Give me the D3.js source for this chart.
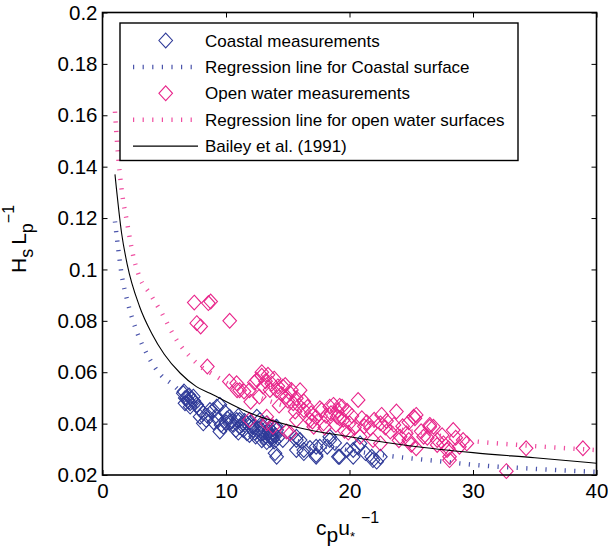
<!DOCTYPE html>
<html>
<head>
<meta charset="utf-8" />
<title>Hs/Lp vs cp/u*</title>
<script src="https://cdn.jsdelivr.net/npm/d3@7"></script>
<style>
  body { margin: 0; background: #fff; }
  svg { display: block; font-family: "Liberation Sans", Arial, Helvetica, sans-serif; }
</style>
</head>
<body>
<svg id="CHART" width="608" height="551"></svg>
<script>
// axis ticks
var xTicks = [0, 10, 20, 30, 40];
var xTickLabels = ["0", "10", "20", "30", "40"];
var yTicks = [0.02, 0.04, 0.06, 0.08, 0.1, 0.12, 0.14, 0.16, 0.18, 0.2];
var yTickLabels = ["0.02", "0.04", "0.06", "0.08", "0.1", "0.12", "0.14", "0.16", "0.18", "0.2"];

var coastalX = [6.54, 6.82, 7.09, 6.68, 7.35, 7.63, 8.16, 7.9, 8.97, 9.5, 9.38, 9.78, 10.3, 10.87, 11.1, 11.68,
  12.2, 12.75, 13.0, 13.3, 13.7, 13.97, 14.1, 12.5, 11.9, 16.0, 16.3, 17.3, 17.6, 18.4, 19.1, 19.8, 8.4, 6.6,
  7.1, 8.7, 9.25, 9.5, 10.3, 11.1, 11.7, 12.2, 12.75, 13.3, 13.56, 14.1, 14.6, 15.7, 8.16, 13.0, 13.56, 14.1,
  15.7, 16.3, 17.3, 18.2, 19.2, 20.3, 20.85, 21.9, 22.5, 17.3, 18.4, 15.7, 20.3, 20.7, 21.8, 22.2,
  7.0, 6.9, 7.2, 10.6, 11.4, 12.0, 12.9, 13.2, 13.8, 14.0, 13.5, 11.0, 9.9, 10.1, 12.4, 13.9,
  6.7, 7.0, 7.4, 7.8, 8.5, 9.0, 9.6, 10.5, 10.8, 11.3, 11.5, 11.9, 12.3, 12.6, 12.8, 13.1, 13.4, 13.6, 13.8,
  14.0, 14.2, 13.3, 12.9, 11.0, 10.0, 9.2, 8.0, 16.8, 18.8, 21.3];
var coastalY = [0.0518, 0.0499, 0.0479, 0.0479, 0.0505, 0.0473, 0.0440, 0.0427, 0.0453, 0.0473, 0.0414, 0.0388, 0.0427, 0.0414, 0.0388, 0.0401,
  0.0375, 0.0414, 0.0388, 0.0362, 0.0349, 0.0285, 0.0388, 0.0427, 0.0356, 0.0336, 0.0297, 0.0278, 0.0310, 0.0336, 0.0271, 0.0297, 0.0414, 0.0525,
  0.0466, 0.0453, 0.0466, 0.0369, 0.0401, 0.0414, 0.0362, 0.0388, 0.0362, 0.0401, 0.0349, 0.0375, 0.0336, 0.0297, 0.0401, 0.0362, 0.0336, 0.0271,
  0.0336, 0.0285, 0.0271, 0.0310, 0.0271, 0.0297, 0.0323, 0.0258, 0.0271, 0.0310, 0.0349, 0.0349, 0.0271, 0.0310, 0.0271, 0.0252,
  0.0510, 0.0490, 0.0495, 0.0395, 0.0375, 0.0405, 0.0375, 0.0350, 0.0365, 0.0355, 0.0380, 0.0430, 0.0445, 0.0420, 0.0350, 0.0330,
  0.0500, 0.0485, 0.0488, 0.0460, 0.0430, 0.0405, 0.0395, 0.0410, 0.0375, 0.0395, 0.0410, 0.0390, 0.0365, 0.0380, 0.0395, 0.0345, 0.0372, 0.0358, 0.0340,
  0.0385, 0.0345, 0.0328, 0.0335, 0.0365, 0.0405, 0.0430, 0.0450, 0.0305, 0.0325, 0.0285];

// open water measurements
var openX = [7.43, 8.57, 8.76, 7.63, 7.95, 10.3, 8.49, 10.27, 10.86, 11.46, 12.5, 12.9, 13.0, 13.56, 14.8, 15.2,
  15.7, 16.3, 17.6, 18.4, 19.2, 19.0, 11.9, 13.3, 15.2, 17.1, 17.9, 11.1, 11.9, 14.1, 14.9, 15.45, 13.3, 13.8,
  14.9, 15.7, 15.3, 16.3, 15.6, 16.8, 17.75, 18.7, 19.4, 19.2, 20.0, 20.7, 21.0, 21.7, 22.6, 22.5, 23.8, 23.3,
  24.1, 25.3, 25.4, 26.5, 26.0, 27.1, 24.8, 21.9, 14.6, 25.2, 26.5, 28.4, 29.5, 28.1, 34.3, 38.9, 32.7, 24.6,
  25.4, 27.6, 28.0, 22.5, 20.85, 26.8, 29.2, 28.1, 27.9, 27.1, 12.3, 13.9, 16.9, 18.1, 19.8, 20.4, 21.4, 23.0,
  24.3, 19.6, 18.9, 16.0, 14.3, 12.7, 12.9, 13.4,
  13.2, 13.7, 14.2, 14.5, 15.0, 15.9, 16.6, 17.3, 18.5, 19.0, 19.5, 20.2, 21.2, 22.0, 22.9, 23.6, 24.8, 25.8,
  26.3, 27.5, 28.6, 28.9, 24.0, 25.0, 19.9, 17.0, 18.0, 12.0, 10.9];
var openY = [0.0871, 0.0869, 0.0875, 0.0791, 0.0778, 0.0800, 0.0622, 0.0564, 0.0557, 0.0525, 0.0570, 0.0586, 0.0544, 0.0531, 0.0550, 0.0518,
  0.0499, 0.0453, 0.0460, 0.0466, 0.0469, 0.0427, 0.0414, 0.0401, 0.0362, 0.0388, 0.0401, 0.0530, 0.0530, 0.0530, 0.0505, 0.0479, 0.0427, 0.0388,
  0.0369, 0.0414, 0.0531, 0.0486, 0.0447, 0.0414, 0.0453, 0.0473, 0.0466, 0.0421, 0.0401, 0.0492, 0.0421, 0.0382, 0.0434, 0.0401, 0.0447, 0.0369,
  0.0349, 0.0421, 0.0434, 0.0395, 0.0349, 0.0336, 0.0336, 0.0336, 0.0544, 0.0427, 0.0388, 0.0375, 0.0323, 0.0258, 0.0304, 0.0304, 0.0215, 0.0362,
  0.0304, 0.0323, 0.0304, 0.0323, 0.0349, 0.0388, 0.0336, 0.0271, 0.0297, 0.0317, 0.0560, 0.0575, 0.0440, 0.0430, 0.0450, 0.0385, 0.0405, 0.0410,
  0.0390, 0.0372, 0.0395, 0.0530, 0.0470, 0.0505, 0.0600, 0.0590,
  0.0565, 0.0555, 0.0545, 0.0515, 0.0490, 0.0470, 0.0465, 0.0425, 0.0440, 0.0450, 0.0415, 0.0430, 0.0390, 0.0415, 0.0385, 0.0395, 0.0405, 0.0370,
  0.0345, 0.0355, 0.0345, 0.0310, 0.0335, 0.0318, 0.0365, 0.0408, 0.0385, 0.0485, 0.0530];

// regression / reference curves
var coastFitX = [1.01, 1.3, 1.55, 2.0, 2.8, 3.6, 4.8, 5.6, 7, 8, 10, 12, 15, 18, 20, 23.8, 27, 30, 35, 40];
var coastFitY = [0.1187, 0.107, 0.098, 0.088, 0.0755, 0.067, 0.0585, 0.0555, 0.0495, 0.0467, 0.0418, 0.0381, 0.0341, 0.0311, 0.0296, 0.0271, 0.0255, 0.0240, 0.0224, 0.0212];
var openFitX = [1.01, 1.2, 1.55, 2.0, 2.5, 3.0, 3.85, 4.8, 6, 7, 8, 9, 10, 12, 14, 16, 18, 20, 23, 26, 30, 34, 40];
var openFitY = [0.1614, 0.148, 0.131, 0.118, 0.105, 0.097, 0.0905, 0.083, 0.0725, 0.0665, 0.062, 0.059, 0.056, 0.0515, 0.048, 0.0452, 0.043, 0.041, 0.0385, 0.0363, 0.0332, 0.0316, 0.0297];
var baileyX = [1.01, 1.55, 2, 3, 4, 5, 6.3, 7.6, 8.7, 12, 16, 20, 25, 30, 35, 40];
var baileyY = [0.137, 0.114, 0.102, 0.0856, 0.075, 0.067, 0.0596, 0.0544, 0.0518, 0.044, 0.0383, 0.0349, 0.0313, 0.0287, 0.0267, 0.0246];

var legendLabels = ["Coastal measurements", "Regression line for Coastal surface",
  "Open water measurements", "Regression line for open water surfaces", "Bailey et al. (1991)"];

var BLUE = "#2f3a98", PINK = "#e8248a";
var BLUE_LINE = "#4a54ab", PINK_LINE = "#ef4ea0";

var L = 102.5, R = 596.5, T = 12.5, B = 475;
var svg = d3.select("#CHART");

var x = d3.scaleLinear().domain([0, 40]).range([L, R]);
var y = d3.scaleLinear().domain([0.02, 0.2]).range([B, T]);

svg.append("defs").append("clipPath").attr("id", "clip")
  .append("rect").attr("x", L).attr("y", T).attr("width", R - L).attr("height", B - T);

// diamond marker path
function diamond(w, h) {
  return "M0," + (-h) + "L" + w + ",0L0," + h + "L" + (-w) + ",0Z";
}
var DIA = diamond(6.8, 7.4);

function scatter(xs, ys, color) {
  svg.append("g").selectAll("path").data(d3.zip(xs, ys)).enter().append("path")
    .attr("d", DIA)
    .attr("transform", function (d) { return "translate(" + x(d[0]) + "," + y(d[1]) + ")"; })
    .attr("fill", "none").attr("stroke", color).attr("stroke-width", 1.1);
}

var line = d3.line().x(function (d) { return x(d[0]); }).y(function (d) { return y(d[1]); })
  .curve(d3.curveMonotoneX);

function curve(xs, ys, color, dotted) {
  var p = svg.append("path").datum(d3.zip(xs, ys))
    .attr("clip-path", "url(#clip)")
    .attr("d", line).attr("fill", "none").attr("stroke", color);
  if (dotted) p.attr("stroke-width", 4.5).attr("stroke-dasharray", "1.2 8.4");
  else p.attr("stroke-width", 1.1);
}

scatter(coastalX, coastalY, BLUE);
curve(coastFitX, coastFitY, BLUE_LINE, true);
scatter(openX, openY, PINK);
curve(openFitX, openFitY, PINK_LINE, true);
curve(baileyX, baileyY, "#000", false);

// axes, ticks inside
function styleAxis(g) {
  g.select(".domain").remove();
  g.selectAll(".tick line").attr("stroke", "#000").attr("stroke-width", 1);
  g.selectAll(".tick text").attr("fill", "#000").attr("font-size", "20.5px")
    .attr("font-family", "Liberation Sans, Arial, sans-serif");
}
svg.append("g").attr("transform", "translate(0," + B + ")")
  .call(d3.axisBottom(x).tickValues(xTicks).tickFormat(function (d, i) { return xTickLabels[i]; })
    .tickSizeInner(-5).tickSizeOuter(0).tickPadding(8))
  .call(styleAxis);
svg.append("g").attr("transform", "translate(" + L + ",0)")
  .call(d3.axisLeft(y).tickValues(yTicks).tickFormat(function (d, i) { return yTickLabels[i]; })
    .tickSizeInner(-5).tickSizeOuter(0).tickPadding(5))
  .call(styleAxis);
svg.append("g").attr("transform", "translate(0," + T + ")")
  .call(d3.axisTop(x).tickValues(xTicks).tickFormat("").tickSizeInner(-5).tickSizeOuter(0))
  .call(styleAxis);
svg.append("g").attr("transform", "translate(" + R + ",0)")
  .call(d3.axisRight(y).tickValues(yTicks).tickFormat("").tickSizeInner(-5).tickSizeOuter(0))
  .call(styleAxis);

svg.append("rect").attr("x", L).attr("y", T).attr("width", R - L).attr("height", B - T)
  .attr("fill", "none").attr("stroke", "#000").attr("stroke-width", 1.6);

// legend
var lg = svg.append("g");
lg.append("rect").attr("x", 120).attr("y", 23).attr("width", 398).attr("height", 137.5)
  .attr("fill", "#fff").attr("stroke", "#000").attr("stroke-width", 1.4);
var legendStyle = [
  { kind: "marker", color: BLUE },
  { kind: "dots", color: BLUE_LINE },
  { kind: "marker", color: PINK },
  { kind: "dots", color: PINK_LINE },
  { kind: "line", color: "#000" }
];
legendLabels.forEach(function (lab, i) {
  var cy = 40.5 + i * 26.4;
  var s = legendStyle[i];
  if (s.kind === "marker") {
    lg.append("path").attr("d", DIA).attr("transform", "translate(165.7," + cy + ")")
      .attr("fill", "none").attr("stroke", s.color).attr("stroke-width", 1.1);
  } else if (s.kind === "dots") {
    lg.append("line").attr("x1", 133).attr("x2", 198).attr("y1", cy).attr("y2", cy)
      .attr("stroke", s.color).attr("stroke-width", 4.5).attr("stroke-dasharray", "1.2 8.4");
  } else {
    lg.append("line").attr("x1", 133).attr("x2", 198).attr("y1", cy).attr("y2", cy)
      .attr("stroke", s.color).attr("stroke-width", 1.1);
  }
  lg.append("text").attr("x", 205).attr("y", cy).attr("dy", "0.36em")
    .attr("font-size", "17px").attr("fill", "#000").text(lab);
});

// axis labels
var xl = svg.append("text").attr("x", 316).attr("y", 535).attr("font-size", "21px").attr("fill", "#000");
xl.append("tspan").text("c");
xl.append("tspan").attr("dy", 7).text("p");
xl.append("tspan").attr("dy", -7).text("u");
xl.append("tspan").attr("dy", 6).attr("font-size", "13px").text("*");
xl.append("tspan").attr("dy", -18).attr("dx", 6).attr("font-size", "16px").text("\u22121");

var yl = svg.append("text").attr("transform", "translate(26,273) rotate(-90)")
  .attr("font-size", "21px").attr("fill", "#000");
yl.append("tspan").text("H");
yl.append("tspan").attr("dy", 7).attr("font-size", "18px").text("s");
yl.append("tspan").attr("dy", -7).attr("dx", 4).text("L");
yl.append("tspan").attr("dy", 7).attr("font-size", "18px").text("p");
yl.append("tspan").attr("dy", -19).attr("font-size", "16px").text("\u22121");
</script>
</body>
</html>
